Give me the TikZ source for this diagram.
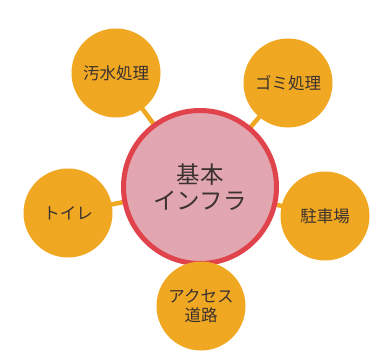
\documentclass[tikz,border=0pt]{standalone}
\usepackage{fontspec}
\usetikzlibrary{backgrounds}
\newfontfamily\cjk{Noto Sans CJK JP}
\definecolor{orng}{HTML}{F0A822}
\definecolor{pinkf}{HTML}{E2A6B0}
\definecolor{redb}{HTML}{E0434C}
\definecolor{txt}{HTML}{3A3230}
\begin{document}
\begin{tikzpicture}[x=1pt,y=-1pt,
  sat/.style={circle,fill=orng,minimum size=89pt,inner sep=0pt,text=txt,font=\cjk\fontsize{16.5}{19}\selectfont,align=center},
  hub/.style={circle,fill=pinkf,draw=redb,line width=5pt,minimum size=153pt,inner sep=0pt,text=txt,font=\cjk\fontsize{23.5}{26}\selectfont,align=center},
  link/.style={draw=orng,line width=4.5pt}]
\useasboundingbox (0,0) rectangle (382,361);
\node[hub] (h) at (200,187) {基本\\インフラ};
\node[sat] (a) at (116,73) {汚水処理};
\node[sat] (b) at (288,83) {ゴミ処理};
\node[sat] (c) at (325,216) {駐車場};
\node[sat] (d) at (201,306) {アクセス\\道路};
\node[sat] (e) at (68,213) {トイレ};
\begin{pgfonlayer}{background}
\foreach \s in {a,b,c,d,e} \path[link] (h.center) -- (\s.center);
\end{pgfonlayer}
\end{tikzpicture}
\end{document}
